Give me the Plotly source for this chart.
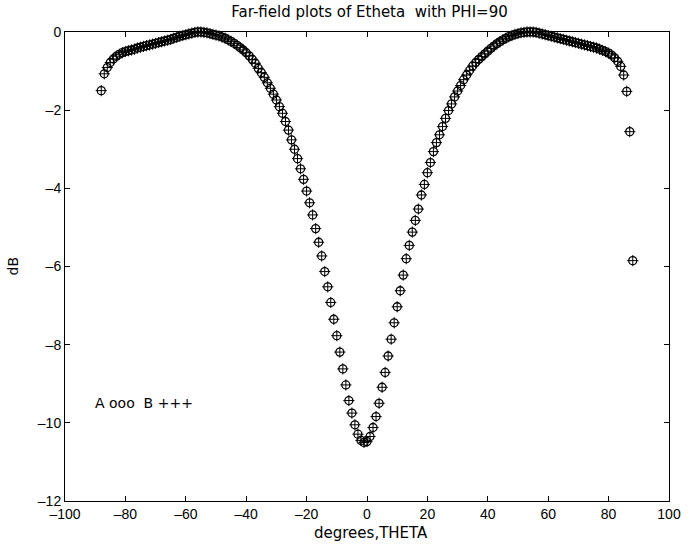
import plotly.graph_objects as go

# Far-field angle grid (degrees)
theta = [
    -88, -87, -86, -85, -84, -83, -82, -81, -80,
    -79, -78, -77, -76, -75, -74, -73, -72, -71, -70,
    -69, -68, -67, -66, -65, -64, -63, -62, -61, -60,
    -59, -58, -57, -56, -55, -54, -53, -52, -51, -50,
    -49, -48, -47, -46, -45, -44, -43, -42, -41, -40,
    -39, -38, -37, -36, -35, -34, -33, -32, -31, -30,
    -29, -28, -27, -26, -25, -24, -23, -22, -21, -20,
    -19, -18, -17, -16, -15, -14, -13, -12, -11, -10,
    -9, -8, -7, -6, -5, -4, -3, -2, -1, 0,
    1, 2, 3, 4, 5, 6, 7, 8, 9, 10,
    11, 12, 13, 14, 15, 16, 17, 18, 19, 20,
    21, 22, 23, 24, 25, 26, 27, 28, 29, 30,
    31, 32, 33, 34, 35, 36, 37, 38, 39, 40,
    41, 42, 43, 44, 45, 46, 47, 48, 49, 50,
    51, 52, 53, 54, 55, 56, 57, 58, 59, 60,
    61, 62, 63, 64, 65, 66, 67, 68, 69, 70,
    71, 72, 73, 74, 75, 76, 77, 78, 79, 80,
    81, 82, 83, 84, 85, 86, 87, 88,
]

# Series A (ooo), dB
db_A = [
    -1.50, -1.07, -0.91, -0.78, -0.69, -0.62, -0.57, -0.53, -0.50,
    -0.48, -0.46, -0.44, -0.41, -0.39, -0.37, -0.35, -0.33, -0.31, -0.29,
    -0.27, -0.25, -0.23, -0.21, -0.19, -0.16, -0.14, -0.11, -0.09, -0.07,
    -0.05, -0.03, -0.01, 0.00, 0.00, -0.01, -0.02, -0.04, -0.06, -0.08,
    -0.10, -0.13, -0.16, -0.20, -0.24, -0.29, -0.34, -0.40, -0.46, -0.53,
    -0.61, -0.70, -0.80, -0.93, -1.04, -1.16, -1.30, -1.44, -1.59, -1.74,
    -1.91, -2.08, -2.29, -2.51, -2.76, -3.00, -3.24, -3.50, -3.77, -4.07,
    -4.37, -4.68, -5.03, -5.38, -5.73, -6.13, -6.52, -6.92, -7.35, -7.77,
    -8.19, -8.62, -9.03, -9.43, -9.75, -10.05, -10.29, -10.45, -10.50, -10.48,
    -10.35, -10.12, -9.84, -9.50, -9.09, -8.71, -8.29, -7.86, -7.44, -7.03,
    -6.62, -6.22, -5.80, -5.46, -5.12, -4.82, -4.53, -4.17, -3.90, -3.60,
    -3.34, -3.06, -2.83, -2.63, -2.42, -2.21, -2.01, -1.84, -1.66, -1.51,
    -1.37, -1.22, -1.10, -0.98, -0.87, -0.78, -0.70, -0.63, -0.56, -0.49,
    -0.42, -0.36, -0.30, -0.25, -0.20, -0.16, -0.12, -0.09, -0.06, -0.04,
    -0.02, -0.01, 0.00, 0.00, 0.00, -0.01, -0.03, -0.05, -0.07, -0.09,
    -0.11, -0.13, -0.15, -0.17, -0.19, -0.21, -0.23, -0.25, -0.27, -0.29,
    -0.31, -0.33, -0.35, -0.37, -0.39, -0.41, -0.44, -0.47, -0.50, -0.54,
    -0.59, -0.66, -0.75, -0.88, -1.10, -1.52, -2.55, -5.85,
]

# Series B (+++), dB — coincides with A in the picture
db_B = [
    -1.50, -1.07, -0.91, -0.78, -0.69, -0.62, -0.57, -0.53, -0.50,
    -0.48, -0.46, -0.44, -0.41, -0.39, -0.37, -0.35, -0.33, -0.31, -0.29,
    -0.27, -0.25, -0.23, -0.21, -0.19, -0.16, -0.14, -0.11, -0.09, -0.07,
    -0.05, -0.03, -0.01, 0.00, 0.00, -0.01, -0.02, -0.04, -0.06, -0.08,
    -0.10, -0.13, -0.16, -0.20, -0.24, -0.29, -0.34, -0.40, -0.46, -0.53,
    -0.61, -0.70, -0.80, -0.93, -1.04, -1.16, -1.30, -1.44, -1.59, -1.74,
    -1.91, -2.08, -2.29, -2.51, -2.76, -3.00, -3.24, -3.50, -3.77, -4.07,
    -4.37, -4.68, -5.03, -5.38, -5.73, -6.13, -6.52, -6.92, -7.35, -7.77,
    -8.19, -8.62, -9.03, -9.43, -9.75, -10.05, -10.29, -10.45, -10.50, -10.48,
    -10.35, -10.12, -9.84, -9.50, -9.09, -8.71, -8.29, -7.86, -7.44, -7.03,
    -6.62, -6.22, -5.80, -5.46, -5.12, -4.82, -4.53, -4.17, -3.90, -3.60,
    -3.34, -3.06, -2.83, -2.63, -2.42, -2.21, -2.01, -1.84, -1.66, -1.51,
    -1.37, -1.22, -1.10, -0.98, -0.87, -0.78, -0.70, -0.63, -0.56, -0.49,
    -0.42, -0.36, -0.30, -0.25, -0.20, -0.16, -0.12, -0.09, -0.06, -0.04,
    -0.02, -0.01, 0.00, 0.00, 0.00, -0.01, -0.03, -0.05, -0.07, -0.09,
    -0.11, -0.13, -0.15, -0.17, -0.19, -0.21, -0.23, -0.25, -0.27, -0.29,
    -0.31, -0.33, -0.35, -0.37, -0.39, -0.41, -0.44, -0.47, -0.50, -0.54,
    -0.59, -0.66, -0.75, -0.88, -1.10, -1.52, -2.55, -5.85,
]

x_ticks = [-100, -80, -60, -40, -20, 0, 20, 40, 60, 80, 100]
y_ticks = [-12, -10, -8, -6, -4, -2, 0]

TICK_FONT = "Liberation Sans, Arial, Helvetica, sans-serif"
TEXT_FONT = "DejaVu Sans, Verdana, sans-serif"

fig = go.Figure()
fig.add_trace(go.Scatter(
    x=theta, y=db_A, mode="markers", name="A",
    marker=dict(symbol="circle-open", size=8, color="black",
                line=dict(color="black", width=1.3)),
    showlegend=False, cliponaxis=False,
))
fig.add_trace(go.Scatter(
    x=theta, y=db_B, mode="markers", name="B",
    marker=dict(symbol="cross-thin-open", size=8, color="black",
                line=dict(color="black", width=1)),
    showlegend=False, cliponaxis=False,
))

axis_common = dict(
    showline=True, linecolor="black", linewidth=1, mirror="ticks",
    ticks="inside", ticklen=5, tickcolor="black", tickwidth=1,
    showgrid=False, zeroline=False,
    tickfont=dict(family=TICK_FONT, size=14, color="black"),
)

fig.update_layout(
    width=700, height=544,
    margin=dict(l=65, r=31, t=32, b=43),
    paper_bgcolor="white", plot_bgcolor="white",
    font=dict(family=TICK_FONT, color="black"),
    title=dict(text="Far-field plots of Etheta  with PHI=90",
               x=(369.5 - 65) / 604, xanchor="center", y=1 - 12 / 544, yanchor="middle",
               yref="container", xref="paper",
               font=dict(family=TEXT_FONT, size=15, color="black")),
    xaxis=dict(range=[-100, 100], tickvals=x_ticks,
               ticktext=[str(v).replace("-", "\u2013") for v in x_ticks],
               **axis_common),
    yaxis=dict(range=[-12, 0], tickvals=y_ticks,
               ticktext=[str(v).replace("-", "\u2013") for v in y_ticks],
               **axis_common),
    annotations=[
        dict(text="degrees,THETA", xref="paper", yref="paper",
             x=(371 - 65) / 604, y=-(533 - 501) / 469, xanchor="center", yanchor="middle",
             showarrow=False, font=dict(family=TEXT_FONT, size=15, color="black")),
        dict(text="dB", xref="paper", yref="paper",
             x=(12 - 65) / 604, y=0.5, xanchor="center", yanchor="middle",
             textangle=-90, showarrow=False,
             font=dict(family=TEXT_FONT, size=14, color="black")),
        dict(text="A ooo  B +++", xref="x", yref="y",
             x=-90.7, y=-9.5, xanchor="left", yanchor="middle",
             showarrow=False, font=dict(family=TEXT_FONT, size=14, color="black")),
    ],
)

fig.write_html("out.html", config={"displayModeBar": False},
               post_script="document.body.style.margin='0';")
